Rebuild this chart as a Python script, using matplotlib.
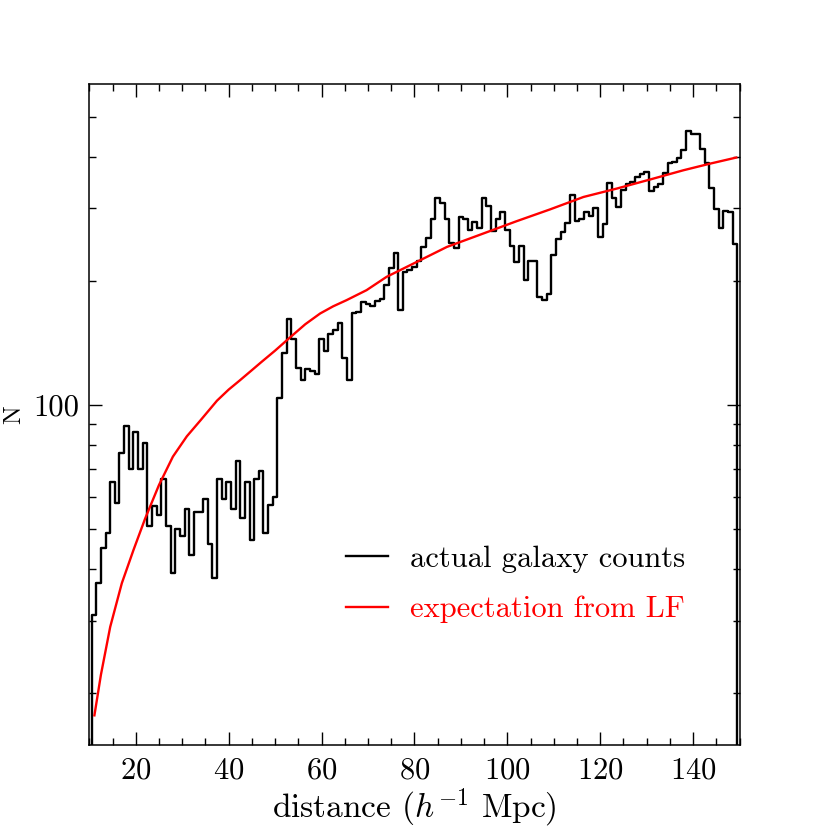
import matplotlib
matplotlib.use('Agg')
import matplotlib.pyplot as plt
import numpy as np
from matplotlib.ticker import NullFormatter

plt.rcParams['font.family'] = ['cmr10', 'DejaVu Serif']
plt.rcParams['mathtext.fontset'] = 'cm'
plt.rcParams['axes.formatter.use_mathtext'] = True

# galaxy counts in 1 Mpc bins, centred on integer distances 10..150
distance = np.arange(10, 151)
counts = [
    5, 31.0, 37.1, 45.1, 49.1, 65.2, 57.8, 76.4, 89.1, 70.0,          # 10-19
    85.9, 70.0, 81.0, 50.9, 57.0, 54.0, 66.2, 50.9, 39.1, 50.2,      # 20-29
    48.2, 56.0, 43.2, 55.2, 55.2, 59.2, 46.1, 38.0, 66.2, 59.2,      # 30-39
    65.2, 56.0, 73.2, 53.2, 65.2, 47.1, 66.2, 69.2, 49.1, 57.2,      # 40-49
    60.0, 104.2, 133.9, 161.3, 144.3, 123.1, 115.0, 122.2, 120.9, 118.7,  # 50-59
    144.3, 135.1, 148.3, 151.9, 158.2, 129.7, 115.0, 166.7, 168.2, 177.3,  # 60-69
    175.6, 173.7, 178.6, 180.3, 195.2, 215, 234, 170, 210, 212,      # 70-79
    216, 223, 242, 254, 283, 318, 308, 283, 247, 240,                # 80-89
    285, 282, 265, 277, 269, 317, 303, 264, 283, 293,                # 90-99
    265, 243, 222, 243, 201, 224, 224, 183, 180, 186,                # 100-109
    231, 252, 263, 276, 323, 279, 283, 294, 288, 301,                # 110-119
    256, 275, 345, 317, 302, 332, 344, 347, 357, 363,                # 120-129
    367, 330, 338, 343, 365, 386, 388, 397, 416, 462,                # 130-139
    453, 455, 418, 386, 335, 299, 268, 295, 294, 245,                # 140-149
    5,                                                               # 150
]

# expected counts from the luminosity function
lf_dist = [11.1, 12.5, 14.5, 17.0, 19.5, 22.0, 25.0, 28.0, 31.0, 34.0,
           37.5, 40.0, 42.3, 45.0, 47.0, 50.0, 53.2, 56.5, 59.7, 62.5,
           65.4, 69.7, 74.0, 79.8, 87.0, 94.8, 102.0, 109.2, 116.4, 123.6,
           130.7, 137.9, 143.7, 149.3]
lf_expect = [17.7, 22.2, 29.0, 37.0, 44.5, 53.0, 64.0, 75.0, 84.0, 92.0,
             102.5, 109.0, 114.5, 121.5, 127.0, 135.5, 145.8, 157.0, 166.7, 173.5,
             179.6, 189.9, 204.5, 220.3, 241.7, 260.4, 279.0, 298.0, 319.4, 334.8,
             352.0, 370.7, 384.8, 398.0]

y_minor = [20, 30, 40, 50, 60, 70, 80, 90, 200, 300, 400, 500]

fig = plt.figure(figsize=(8.3, 8.3), dpi=100)
ax = fig.add_axes([0.1076, 0.1024, 0.7834, 0.7964])

ax.step(distance, counts, where='mid', color='black', lw=1.7,
        label='actual galaxy counts')
ax.plot(lf_dist, lf_expect, color='red', lw=1.7, label='expectation from LF')

ax.set_yscale('log')
ax.set_xlim(10, 150)
ax.set_ylim(15, 600)

ax.set_xticks(np.arange(20, 141, 20))
ax.set_xticks(np.arange(10, 151, 5), minor=True)
ax.set_yticks([100], ['100'])
ax.set_yticks(y_minor, minor=True)
ax.yaxis.set_minor_formatter(NullFormatter())

ax.tick_params(which='both', direction='in', top=True, right=True,
               labelsize=22, width=1)
ax.tick_params(axis='x', which='major', length=9.5, pad=9)
ax.tick_params(axis='y', which='major', length=9.5, pad=7)
ax.tick_params(which='minor', length=5)
for s in ax.spines.values():
    s.set_linewidth(1.1)

ax.set_xlabel(r'distance ($h^{-1}$ Mpc)', fontsize=24, labelpad=1)
ax.set_ylabel('N', fontsize=18)
ax.yaxis.set_label_coords(-0.098, 0.5)

leg = ax.legend(loc='upper left', bbox_to_anchor=(0.395, 0.302), frameon=False,
                fontsize=22, handlelength=1.37, handletextpad=0.72,
                labelspacing=0.75, borderpad=0, borderaxespad=0)
leg.get_texts()[1].set_color('red')

fig.savefig('out.png', dpi=100)
